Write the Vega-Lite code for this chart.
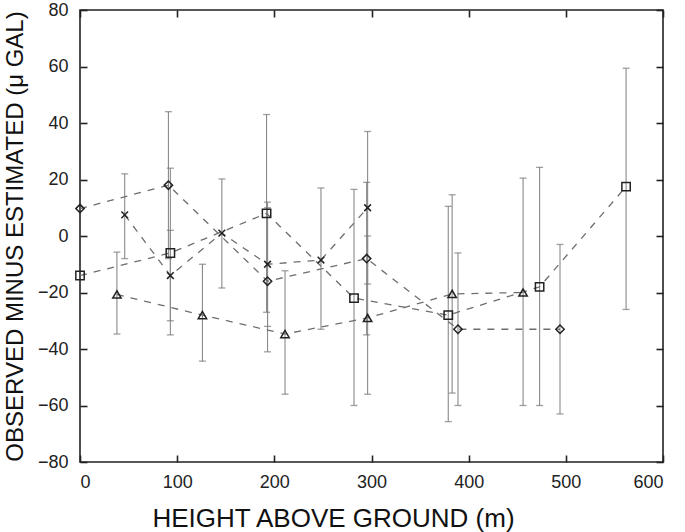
{
  "$schema": "https://vega.github.io/schema/vega-lite/v6.json",
  "width": 583,
  "height": 452,
  "autosize": "none",
  "padding": {"left": 80, "top": 10, "right": 22, "bottom": 70},
  "background": "white",
  "config": {
    "font": "Liberation Sans",
    "view": {"stroke": "#222", "strokeWidth": 1.6},
    "axis": {
      "domain": false,
      "grid": false,
      "tickColor": "#222",
      "tickWidth": 1.6,
      "tickSize": -7,
      "labelColor": "#222",
      "labelFontSize": 18,
      "titleColor": "#111",
      "titleFontWeight": "normal",
      "titleFontSize": 26
    }
  },
  "data": {
    "values": [
      {"s": "A", "x": 0, "y": 9.7},
      {"s": "A", "x": 91, "y": 18, "lo": -8, "hi": 44},
      {"s": "A", "x": 193, "y": -16, "lo": -41, "hi": 10},
      {"s": "A", "x": 295, "y": -8, "lo": -35, "hi": 19},
      {"s": "A", "x": 389, "y": -33, "lo": -60, "hi": -6},
      {"s": "A", "x": 494, "y": -33, "lo": -63, "hi": -3},
      {"s": "B", "x": 46, "y": 7.5, "lo": -8, "hi": 22},
      {"s": "B", "x": 93, "y": -14, "lo": -30, "hi": 2},
      {"s": "B", "x": 146, "y": 1, "lo": -18.4, "hi": 20.2},
      {"s": "B", "x": 193, "y": -10, "lo": -32, "hi": 12},
      {"s": "B", "x": 248, "y": -8.5, "lo": -33, "hi": 17},
      {"s": "B", "x": 296, "y": 10, "lo": -17, "hi": 37},
      {"s": "C", "x": 0, "y": -14},
      {"s": "C", "x": 93, "y": -6, "lo": -35, "hi": 24},
      {"s": "C", "x": 192, "y": 8, "lo": -27, "hi": 43},
      {"s": "C", "x": 282, "y": -22, "lo": -60, "hi": 16.5},
      {"s": "C", "x": 379, "y": -28, "lo": -65.7, "hi": 10.5},
      {"s": "C", "x": 473, "y": -18, "lo": -60, "hi": 24.3},
      {"s": "C", "x": 562, "y": 17.5, "lo": -26, "hi": 59.4},
      {"s": "D", "x": 38, "y": -20.7, "lo": -34.7, "hi": -5.7},
      {"s": "D", "x": 126, "y": -28, "lo": -44.3, "hi": -10},
      {"s": "D", "x": 211, "y": -34.7, "lo": -56, "hi": -12.3},
      {"s": "D", "x": 296, "y": -29, "lo": -56, "hi": 0},
      {"s": "D", "x": 383, "y": -20.5, "lo": -55.6, "hi": 14.6},
      {"s": "D", "x": 456, "y": -20, "lo": -60, "hi": 20.5}
    ]
  },
  "layer": [
    {
      "mark": {"type": "rule", "color": "#8a8a8a", "strokeWidth": 1.1},
      "transform": [{"filter": "isValid(datum.lo)"}],
      "encoding": {
        "x": {"field": "x", "type": "quantitative", "scale": {"domain": [0, 600], "nice": false},
              "axis": {"orient": "top", "labels": false, "title": null, "values": [0, 100, 200, 300, 400, 500, 600]}},
        "y": {"field": "lo", "type": "quantitative", "scale": {"domain": [-80, 80], "nice": false},
              "axis": {"orient": "right", "labels": false, "title": null, "values": [-80, -60, -40, -20, 0, 20, 40, 60, 80]}},
        "y2": {"field": "hi"}
      }
    },
    {
      "mark": {"type": "tick", "color": "#777", "size": 7, "thickness": 1.3, "orient": "horizontal"},
      "transform": [{"filter": "isValid(datum.lo)"}],
      "encoding": {
        "x": {"field": "x", "type": "quantitative", "axis": null},
        "y": {"field": "lo", "type": "quantitative", "axis": null}
      }
    },
    {
      "mark": {"type": "tick", "color": "#777", "size": 7, "thickness": 1.3, "orient": "horizontal"},
      "transform": [{"filter": "isValid(datum.hi)"}],
      "encoding": {
        "x": {"field": "x", "type": "quantitative", "axis": null},
        "y": {"field": "hi", "type": "quantitative", "axis": null}
      }
    },
    {
      "mark": {"type": "line", "color": "#6e6e6e", "strokeWidth": 1.3, "strokeDash": [7, 7]},
      "encoding": {
        "x": {"field": "x", "type": "quantitative", "axis": null},
        "y": {"field": "y", "type": "quantitative", "axis": null},
        "detail": {"field": "s"},
        "order": {"field": "x", "type": "quantitative"}
      }
    },
    {
      "mark": {"type": "point", "filled": false, "color": "#222", "strokeWidth": 1.5, "size": 70, "opacity": 1},
      "encoding": {
        "x": {"field": "x", "type": "quantitative",
              "axis": {"orient": "bottom", "title": "HEIGHT ABOVE GROUND  (m)", "titlePadding": 14, "titleX": 253, "titleAlign": "center", "labelPadding": 18, "values": [0, 100, 200, 300, 400, 500, 600]}},
        "y": {"field": "y", "type": "quantitative",
              "axis": {"orient": "left", "title": "OBSERVED MINUS ESTIMATED (μ GAL)", "titleFontSize": 24, "titlePadding": 10, "labelPadding": 19, "values": [-80, -60, -40, -20, 0, 20, 40, 60, 80]}},
        "shape": {"field": "s", "type": "nominal", "legend": null,
                  "scale": {"domain": ["A", "B", "C", "D"], "range": ["diamond", "M-0.8,-0.8L0.8,0.8M-0.8,0.8L0.8,-0.8", "square", "triangle-up"]}}
      }
    }
  ]
}
